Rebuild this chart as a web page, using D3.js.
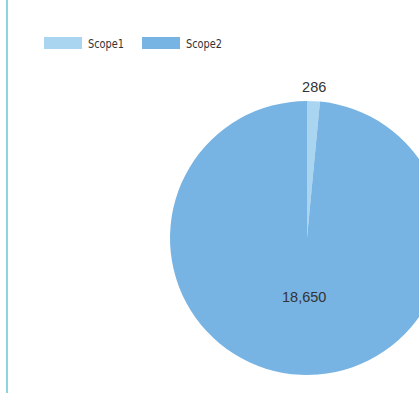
<!DOCTYPE html>
<html>
<head>
<meta charset="utf-8">
<script src="https://cdn.jsdelivr.net/npm/d3@7"></script>
<style>
  body { margin: 0; background: #fff; overflow: hidden; }
  svg { display: block; }
</style>
</head>
<body>
<div id="chart"></div>
<script>
const categories = ["Scope1", "Scope2"];
const values = [286, 18650];
const colors = ["#aad5f1", "#78b4e3"];

const width = 419;
const height = 395;

const svg = d3.select("#chart").append("svg")
    .attr("width", width)
    .attr("height", height);

// teal rule down the left side
svg.append("line")
    .attr("x1", 7).attr("x2", 7)
    .attr("y1", 0).attr("y2", 393)
    .attr("stroke", "#8fd4d9")
    .attr("stroke-width", 2);

// legend
const legend = svg.selectAll(".legend")
    .data(categories)
    .enter()
    .append("g")
    .attr("class", "legend")
    .attr("transform", (d, i) => "translate(" + (44 + i * 98) + ",37)");

legend.append("rect")
    .attr("width", 38)
    .attr("height", 12)
    .attr("fill", (d, i) => colors[i]);

legend.append("text")
    .attr("x", 44)
    .attr("y", 11)
    .attr("font-family", "'Liberation Sans Narrow', 'DejaVu Sans Condensed', sans-serif")
    .attr("font-size", 13)
    .attr("textLength", 36)
    .attr("lengthAdjust", "spacingAndGlyphs")
    .attr("fill", "#333")
    .text(d => d);

// pie
const cx = 307, cy = 238, r = 137;

const pie = d3.pie().sort(null).value(d => d);
const arcs = pie(values);

const arc = d3.arc().innerRadius(0).outerRadius(r);
const labelArc = d3.arc().innerRadius(r * 0.43).outerRadius(r * 0.43);
const outerArc = d3.arc().innerRadius(r + 14).outerRadius(r + 14);

const g = svg.append("g")
    .attr("transform", "translate(" + cx + "," + cy + ")");

g.selectAll("path")
    .data(arcs)
    .enter()
    .append("path")
    .attr("d", arc)
    .attr("fill", (d, i) => colors[i]);

const fmt = d3.format(",");

g.selectAll(".lbl")
    .data(arcs)
    .enter()
    .append("text")
    .attr("class", "lbl")
    .attr("transform", (d, i) => "translate(" + (i === 0 ? outerArc : labelArc).centroid(d) + ")")
    .attr("dy", "0.35em")
    .attr("text-anchor", "middle")
    .attr("font-family", "'Liberation Sans', Arial, sans-serif")
    .attr("font-size", 14.5)
    .attr("fill", "#333")
    .text(d => fmt(d.value));
</script>
</body>
</html>
